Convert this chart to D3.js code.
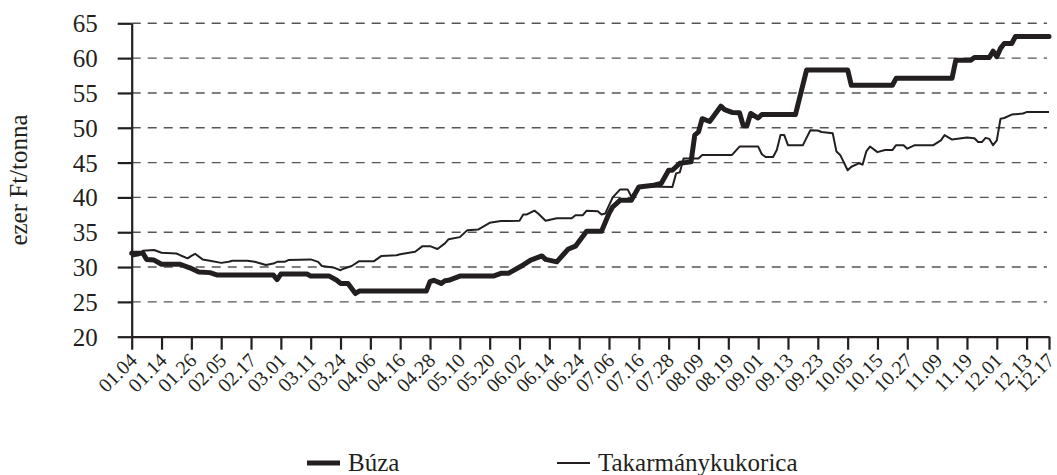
<!DOCTYPE html>
<html>
<head>
<meta charset="utf-8">
<script src="https://cdn.jsdelivr.net/npm/d3@7"></script>
<style>
    body { margin: 0; background: #fff; }
    svg { display: block; }
    svg text { font-family: 'Liberation Serif', 'Times New Roman', serif; }
</style>
</head>
<body>
<div id="svg-container"></div>
<script>
// tick labels (every 8th trading day) and their category index
const tickLabels = ['01.04', '01.14', '01.26', '02.05', '02.17', '03.01', '03.11', '03.24', '04.06', '04.16',
    '04.28', '05.10', '05.20', '06.02', '06.14', '06.24', '07.06', '07.16', '07.28', '08.09',
    '08.19', '09.01', '09.13', '09.23', '10.05', '10.15', '10.27', '11.09', '11.19', '12.01',
    '12.13', '12.17'];
const tickIndex = [0, 8, 16, 24, 32, 40, 48, 56, 64, 72, 80, 88, 96, 104, 112, 120, 128, 136, 144, 152,
    160, 168, 176, 184, 192, 200, 208, 216, 224, 232, 240, 246];
const lastIndex = 246;
const yTicks = [20, 25, 30, 35, 40, 45, 50, 55, 60, 65];

// [category index, ezer Ft/tonna]
const buza = [
    [0, 32.0], [3, 32.0], [4, 31.1], [6, 31.0], [8, 30.4], [13, 30.4], [15, 30.0], [16, 29.8], [18, 29.3],
    [21, 29.2], [23, 28.85], [38, 28.85], [39, 28.2], [40, 29.0], [47, 29.0], [48, 28.7], [53, 28.7],
    [55, 28.1], [56, 27.65], [58, 27.65], [60, 26.2], [61, 26.55], [79, 26.55], [80, 27.9], [81, 28.1],
    [83, 27.65], [84, 28.05], [85, 28.1], [88, 28.7], [97, 28.7], [99, 29.1], [101, 29.1], [105, 30.3],
    [107, 31.0], [110, 31.6], [111, 31.1], [114, 30.75], [116, 31.95], [117, 32.55], [119, 33.0],
    [122, 35.15], [126, 35.15], [128, 37.7], [129, 38.65], [130, 39.1], [131, 39.6], [134, 39.6],
    [136, 41.5], [140, 41.75], [142, 42.0], [144, 43.9], [145, 43.9], [147, 44.9], [150, 45.1],
    [151, 48.95], [152, 49.4], [153, 51.3], [155, 50.9], [158, 53.1], [159, 52.6], [161, 52.2],
    [163, 52.15], [164, 50.3], [165, 50.3], [166, 52.05], [168, 51.4], [169, 51.9], [178, 51.9],
    [181, 58.3], [192, 58.3], [193, 56.1], [204, 56.1], [205, 57.1], [220, 57.1], [221, 59.7],
    [225, 59.7], [226, 60.1], [230, 60.1], [231, 61.0], [232, 60.2], [233, 61.4], [234, 62.1],
    [236, 62.1], [237, 63.1], [246, 63.1]
];

const kukorica = [
    [0, 31.5], [2, 31.7], [3, 32.35], [6, 32.45], [8, 32.05], [12, 31.95], [13, 31.7], [15, 31.25],
    [16, 31.6], [17, 31.9], [19, 31.1], [21, 30.9], [24, 30.6], [26, 30.75], [27, 30.9], [31, 30.9],
    [33, 30.75], [36, 30.3], [38, 30.5], [39, 30.75], [41, 30.75], [42, 31.0], [48, 31.1], [50, 30.75],
    [51, 30.15], [54, 29.95], [56, 29.55], [57, 29.8], [59, 30.15], [61, 30.85], [65, 30.85], [67, 31.6],
    [71, 31.7], [72, 31.85], [76, 32.2], [78, 33.0], [80, 33.0], [82, 32.6], [84, 33.4], [85, 34.0],
    [88, 34.3], [90, 35.3], [93, 35.4], [96, 36.35], [99, 36.6], [104, 36.65], [105, 37.55], [106, 37.55],
    [108, 38.1], [109, 37.7], [111, 36.65], [114, 37.0], [118, 37.0], [119, 37.45], [121, 37.45],
    [122, 38.1], [125, 38.0], [126, 37.55], [127, 37.7], [129, 40.0], [131, 41.15], [133, 41.15],
    [134, 40.1], [136, 41.6], [145, 41.5], [146, 43.45], [147, 43.6], [148, 45.6], [152, 45.6],
    [153, 46.1], [161, 46.1], [163, 47.3], [168, 47.3], [169, 46.2], [170, 45.8], [172, 45.8],
    [173, 46.8], [174, 48.95], [175, 48.95], [176, 47.5], [180, 47.5], [182, 49.65], [184, 49.6],
    [185, 49.4], [188, 49.2], [189, 46.6], [190, 46.1], [192, 43.9], [193, 44.4], [195, 44.9],
    [196, 44.7], [197, 46.6], [198, 47.3], [200, 46.5], [202, 46.8], [204, 46.8], [205, 47.5],
    [207, 47.5], [208, 47.0], [210, 47.5], [215, 47.5], [217, 48.2], [218, 48.95], [220, 48.3],
    [224, 48.6], [226, 48.5], [227, 47.95], [228, 47.95], [229, 48.55], [230, 48.4], [231, 47.5],
    [232, 48.2], [233, 51.3], [234, 51.4], [236, 51.9], [239, 52.05], [240, 52.25], [246, 52.25]
];

const wSvg = 1057, hSvg = 475;
const xLeft = 131.7, xRight = 1049, yTop = 23.3, yBottom = 336.7;
const ink = '#231f20';
const serif = "'Liberation Serif', 'Times New Roman', serif";

let svg = d3.select('#svg-container')
    .append('svg')
    .attr('width', wSvg)
    .attr('height', hSvg);

let xScale = d3.scaleLinear()
    .domain([0, lastIndex])
    .range([xLeft, xRight]);

let yScale = d3.scaleLinear()
    .domain([20, 65])
    .range([yBottom, yTop]);

//#region grid + axes
svg.append('g')
    .selectAll('line')
    .data(yTicks.filter(d => d > 20))
    .enter()
    .append('line')
    .attr('x1', xLeft)
    .attr('x2', xRight - 2)
    .attr('y1', d => yScale(d))
    .attr('y2', d => yScale(d))
    .attr('stroke', '#555')
    .attr('stroke-width', 1.4)
    .attr('stroke-dasharray', '9,7');

let yAx = svg.append('g')
    .attr('transform', `translate(${xLeft}, 0)`)
    .call(d3.axisLeft(yScale)
        .tickValues(yTicks)
        .tickSize(14)
        .tickSizeOuter(0)
        .tickPadding(20))
    .attr('font-family', serif);

let xAx = svg.append('g')
    .attr('transform', `translate(0, ${yBottom})`)
    .call(d3.axisBottom(xScale)
        .tickValues(tickIndex)
        .tickFormat((d, i) => tickLabels[i])
        .tickSize(13)
        .tickSizeOuter(0))
    .attr('font-family', serif);

svg.selectAll('.domain, .tick line')
    .attr('stroke', ink)
    .attr('stroke-width', 2.2);

yAx.selectAll('text')
    .attr('fill', ink)
    .style('font-size', '25px')
    .attr('dy', '0.34em');

xAx.selectAll('text')
    .attr('fill', ink)
    .style('font-size', '20px')
    .style('text-anchor', 'end')
    .attr('y', 0)
    .attr('dy', 0)
    .attr('transform', 'translate(6, 25) rotate(-45)');

svg.append('text')
    .attr('transform', `translate(27, ${(yTop + yBottom) / 2}) rotate(-90)`)
    .attr('text-anchor', 'middle')
    .attr('fill', ink)
    .style('font-size', '25px')
    .text('ezer Ft/tonna');
//#endregion

//#region lines
let lineMaker = d3.line()
    .x(d => xScale(d[0]))
    .y(d => yScale(d[1]));

svg.append('path')
    .attr('d', lineMaker(kukorica))
    .attr('fill', 'none')
    .attr('stroke', ink)
    .attr('stroke-width', 2)
    .attr('stroke-linejoin', 'round');

svg.append('path')
    .attr('d', lineMaker(buza))
    .attr('fill', 'none')
    .attr('stroke', ink)
    .attr('stroke-width', 5)
    .attr('stroke-linejoin', 'round')
    .attr('stroke-linecap', 'round');
//#endregion

//#region legend
const legend = [
    { name: 'Búza', x: 307, width: 5 },
    { name: 'Takarmánykukorica', x: 557, width: 2 }
];
let gLegend = svg.append('g');
legend.forEach(item => {
    gLegend.append('line')
        .attr('x1', item.x).attr('x2', item.x + 33)
        .attr('y1', 463).attr('y2', 463)
        .attr('stroke', ink)
        .attr('stroke-width', item.width);
    gLegend.append('text')
        .attr('x', item.x + 41)
        .attr('y', 471)
        .attr('fill', ink)
        .style('font-size', '25px')
        .text(item.name);
});
//#endregion
</script>
</body>
</html>
